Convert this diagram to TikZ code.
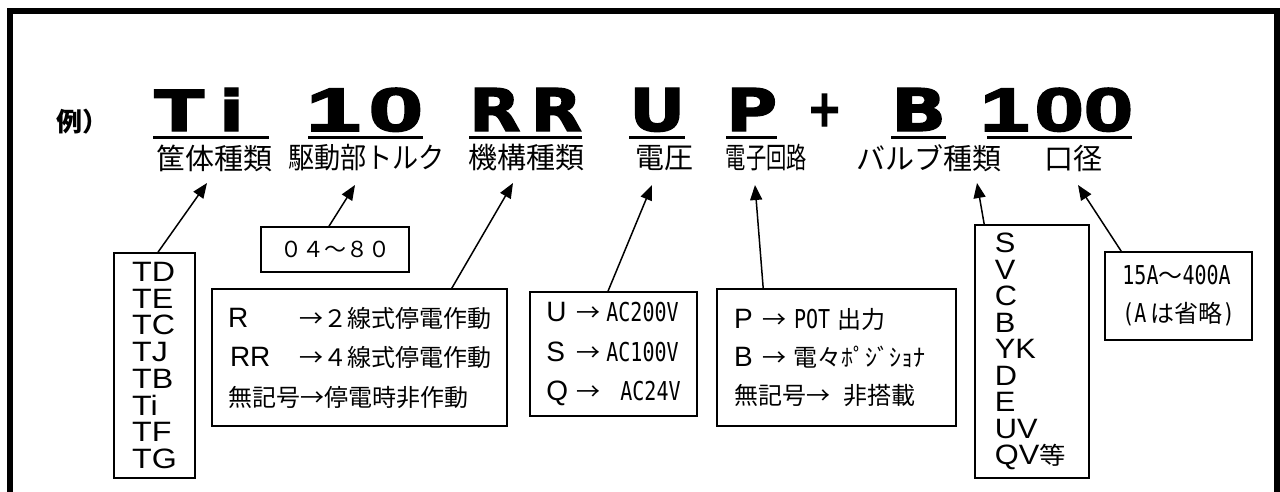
\documentclass[tikz,border=0pt]{standalone}
\usepackage{fontspec}
\usepackage{graphicx}
\usetikzlibrary{arrows.meta}
\newfontfamily\jp{Noto Sans CJK JP}
\newfontfamily\lat{Liberation Sans}
\newfontfamily\mono{DejaVu Sans Mono}
\newfontfamily\heavy{DejaVu Sans}[BoldFeatures={FakeBold=2}]
\newfontfamily\heavyd{Liberation Sans}[BoldFeatures={FakeBold=2.5}]
\newcommand\hw[1]{\scalebox{0.77}[1]{\fontsize{26pt}{26pt}\selectfont\mono #1}}
\newcommand\LL[1]{{\fontsize{28pt}{28pt}\selectfont\lat #1}}
\newcommand\bigcode[3]{\resizebox{#1}{#2}{\heavy\bfseries #3}}
\newcommand\bigdigit[3]{\resizebox{#1}{#2}{\heavyd\bfseries #3}}
\begin{document}
\begin{tikzpicture}[x=1pt,y=-1pt,
  box/.style={draw,line width=1.6pt,inner xsep=0pt,inner ysep=0pt},
  lbl/.style={font=\fontsize{29pt}{29pt}\selectfont\jp,inner sep=0pt,anchor=center},
  code/.style={inner sep=0pt,anchor=base west},
  uline/.style={line width=3pt},
  conn/.style={line width=1.5pt,-{Triangle[length=15pt,width=12pt]}}]
\useasboundingbox (0,0) rectangle (1280,491);
% frame
\draw[line width=6pt] (10,500) -- (10,11) -- (1277,11) -- (1277,500);
% example heading
\node[inner sep=0pt,font=\fontsize{26pt}{26pt}\selectfont\jp\bfseries] (ex) at (82,122) {例）};
% big code
\node[code] (ti) at (154,131) {\bigcode{90pt}{43pt}{T\hspace{0.2em}i}};
\node[code] (ten) at (306,131) {\bigdigit{117pt}{43pt}{1\hspace{0.08em}0}};
\node[code] (rr) at (469,131) {\bigcode{113pt}{43pt}{R\hspace{0.15em}R}};
\node[code] (u) at (629,131) {\bigcode{56pt}{43pt}{U}};
\node[code] (p) at (726,131) {\bigcode{51pt}{43pt}{P}};
\node[inner sep=0pt] (plus) at (824.5,110) {\bigcode{35pt}{32pt}{+}};
\node[code] (b) at (891,131) {\bigcode{55pt}{43pt}{B}};
\node[code] (hund) at (980,131) {\bigdigit{153pt}{43pt}{1\hspace{0.06em}00}};
% underlines
\draw[uline] (153,137) -- (269,137);
\draw[uline] (308,137) -- (423,137);
\draw[uline] (469,137) -- (582,137);
\draw[uline] (629,137) -- (685,137);
\draw[uline] (726,137) -- (777,137);
\draw[uline] (891,137) -- (946,137);
\draw[uline] (987,137) -- (1132,137);
% labels
\node[lbl] (l1) at (214,158) {筐体種類};
\node[lbl] (l2) at (366.5,158) {\scalebox{0.9}[1]{駆動部トルク}};
\node[lbl] (l3) at (526.5,158) {機構種類};
\node[lbl] (l4) at (664,158) {電圧};
\node[lbl] (l5) at (766.5,158) {\scalebox{0.7}[1]{電子回路}};
\node[lbl] (l6) at (928.5,158) {バルブ種類};
\node[lbl] (l7) at (1073.5,158) {口径};
% boxes
\node[box,minimum width=81pt,minimum height=225pt,
  font=\fontsize{28pt}{26.7pt}\selectfont\lat] (tdbox) at (154.5,365.5)
  {\scalebox{1.15}[1]{\parbox{39pt}{TD\\TE\\TC\\TJ\\TB\\Ti\\TF\\TG}}};
\node[box,minimum width=148pt,minimum height=45pt,
  font=\fontsize{22pt}{22pt}\selectfont\jp] (torq) at (335,249.5) {０４～８０};
\node[box,minimum width=295pt,minimum height=137pt,align=left,
  font=\fontsize{24pt}{39.5pt}\selectfont\jp] (rrbox) at (359.5,357.5)
  {\makebox[71pt][l]{\LL{R}}→２線式停電作動\\
   \makebox[71pt][l]{\hspace{2pt}\LL{RR}}→４線式停電作動\\
   無記号→停電時非作動};
\node[box,minimum width=167pt,minimum height=124pt,align=left,
  font=\fontsize{24pt}{39.5pt}\selectfont\jp] (ubox) at (613.5,354)
  {\makebox[30pt][l]{\LL{U}}→\hspace{6pt}\hw{AC200V}\\
   \makebox[30pt][l]{\LL{S}}→\hspace{6pt}\hw{AC100V}\\
   \makebox[30pt][l]{\LL{Q}}→\hspace{20pt}\hw{AC24V}};
\node[box,minimum width=239pt,minimum height=137pt,text width=205pt,inner xsep=17pt,align=left,
  font=\fontsize{24pt}{38pt}\selectfont\jp] (pbox) at (836.5,357.5)
  {\makebox[28pt][l]{\LL{P}}→\hspace{8pt}\hw{POT}\hspace{7pt}出力\\
   \makebox[28pt][l]{\LL{B}}→\hspace{8pt}電々ﾎﾟｼﾞｼｮﾅ\\
   無記号→\hspace{14pt}非搭載};
\node[box,minimum width=114pt,minimum height=253pt,
  font=\fontsize{28pt}{26.5pt}\selectfont\lat] (vbox) at (1032,351.5)
  {\hspace{-6pt}\scalebox{1.1}[1]{\parbox{62pt}{S\\V\\C\\B\\YK\\D\\E\\UV\\QV{\fontsize{24pt}{24pt}\selectfont\jp 等}}}};
\node[box,minimum width=147pt,minimum height=88pt,align=left,
  font=\fontsize{24pt}{38pt}\selectfont\jp] (fbox) at (1178.5,296)
  {\hw{15A}～\hw{400A}\\\hw{(A}\hspace{4pt}は省略\hw{)}};
% arrow tips
\coordinate (t1) at (207,183);
\coordinate (t2) at (355,185);
\coordinate (t3) at (513,183);
\coordinate (t4) at (652,185);
\coordinate (t5) at (755,185);
\coordinate (t6) at (977,183);
\coordinate (t7) at (1078,185);
\draw[conn] ([xshift=3.5pt]tdbox.north) -- (t1);
\draw[conn] ([xshift=-6pt]torq.north) -- (t2);
\draw[conn] ([xshift=-56pt]rrbox.north east) -- (t3);
\draw[conn] ([xshift=-5.5pt]ubox.north) -- (t4);
\draw[conn] ([xshift=47pt]pbox.north west) -- (t5);
\draw[conn] ([xshift=10pt]vbox.north west) -- (t6);
\draw[conn] ([xshift=17pt]fbox.north west) -- (t7);
\end{tikzpicture}
\end{document}
